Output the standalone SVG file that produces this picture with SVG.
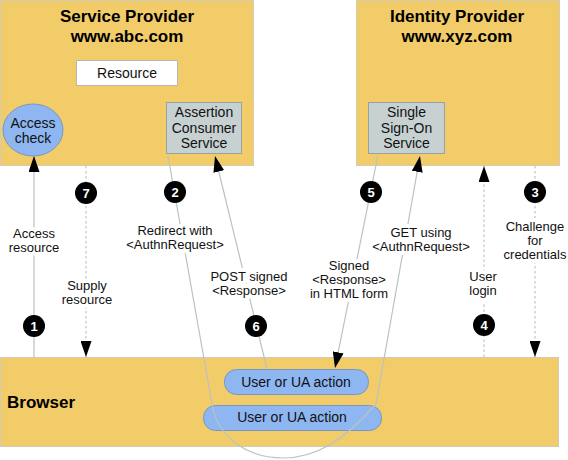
<svg xmlns="http://www.w3.org/2000/svg" width="568" height="460" viewBox="0 0 568 460">
<style>
.panel{fill:#F2CC68;stroke:#d2ccb4;stroke-width:1}
.title{font-family:"Liberation Sans",Arial,sans-serif;font-weight:bold;font-size:17px;fill:#000}
.nt{font-family:"Liberation Sans",Arial,sans-serif;font-size:14px;fill:#111;text-anchor:middle}
.lbl{font-family:"Liberation Sans",Arial,sans-serif;font-size:13px;fill:#111;text-anchor:middle;stroke:#fff;stroke-width:8px;stroke-linejoin:round;paint-order:stroke}
.ln{fill:none;stroke:#b9c3c3;stroke-width:1.2}
.dot{fill:none;stroke:#bcc6c6;stroke-width:1.2;stroke-dasharray:2.5 2.5}
.num circle{fill:#000}
.num text{font-family:"Liberation Sans",Arial,sans-serif;font-weight:bold;font-size:13px;fill:#fff;text-anchor:middle}
.grey{fill:#C7D1D1;stroke:#97a3a3;stroke-width:1}
.blue{fill:#8EB6F1;stroke:#7896c4;stroke-width:1}
</style>
<defs>
<marker id="ah" markerUnits="userSpaceOnUse" markerWidth="16" markerHeight="11" refX="16" refY="5.5" orient="auto">
<path d="M0,0 L16,5.5 L0,11 z" fill="#000"/>
</marker>
</defs>
<rect width="568" height="460" fill="#fff"/>

<g id="service-provider">
<rect class="panel" x="0.5" y="0.5" width="253" height="165"/>
<text class="title" x="127" y="22" text-anchor="middle">Service Provider</text>
<text class="title" x="127" y="42" text-anchor="middle">www.abc.com</text>
</g>
<g id="resource">
<rect x="76.5" y="60.5" width="101" height="25" fill="#fff" stroke="#b8b8b0"/>
<text class="nt" x="127" y="78">Resource</text>
</g>
<g id="access-check">
<ellipse class="blue" cx="33" cy="130" rx="30" ry="26"/>
<text class="nt" x="33" y="128">Access</text>
<text class="nt" x="33" y="143">check</text>
</g>
<g id="assertion-consumer-service">
<rect class="grey" x="166.5" y="102.5" width="75" height="51"/>
<text class="nt" x="204" y="117">Assertion</text>
<text class="nt" x="204" y="133">Consumer</text>
<text class="nt" x="204" y="148">Service</text>
</g>

<g id="identity-provider">
<rect class="panel" x="356.5" y="0.5" width="203" height="165"/>
<text class="title" x="457" y="22" text-anchor="middle">Identity Provider</text>
<text class="title" x="457" y="42" text-anchor="middle">www.xyz.com</text>
</g>
<g id="single-sign-on-service">
<rect class="grey" x="368.5" y="102.5" width="76" height="51"/>
<text class="nt" x="406.5" y="117">Single</text>
<text class="nt" x="406.5" y="133">Sign-On</text>
<text class="nt" x="406.5" y="148">Service</text>
</g>

<g id="browser">
<rect class="panel" x="0.5" y="357.5" width="558" height="89"/>
<text class="title" x="7" y="408">Browser</text>
</g>

<g id="ua-action-1">
<rect class="blue" x="224.5" y="369.5" width="144" height="25" rx="12"/>
<text class="nt" x="296" y="387">User or UA action</text>
</g>
<g id="ua-action-2">
<rect class="blue" x="203.5" y="405.5" width="178" height="25" rx="12"/>
<text class="nt" x="292" y="422">User or UA action</text>
</g>

<g id="connectors">
<line class="ln" x1="34" y1="357" x2="34" y2="156" marker-end="url(#ah)"/>
<line class="dot" x1="86" y1="166" x2="86" y2="357" marker-end="url(#ah)"/>
<path class="ln" d="M168,156 L212,404 C218,440 250,458 283,458 C316,458 345,440 376,404 L420,156" marker-end="url(#ah)"/>
<line class="ln" x1="267" y1="369" x2="215" y2="156" marker-end="url(#ah)"/>
<line class="ln" x1="378" y1="155" x2="335" y2="368" marker-end="url(#ah)"/>
<line class="dot" x1="484" y1="357" x2="484" y2="166" marker-end="url(#ah)"/>
<line class="dot" x1="535" y1="166" x2="535" y2="357" marker-end="url(#ah)"/>

<text class="lbl" x="34" y="238">Access</text>
<text class="lbl" x="34" y="252">resource</text>
<text class="lbl" x="87" y="290">Supply</text>
<text class="lbl" x="87" y="304">resource</text>
<text class="lbl" x="175" y="235">Redirect with</text>
<text class="lbl" x="175" y="249">&lt;AuthnRequest&gt;</text>
<text class="lbl" x="249" y="281">POST signed</text>
<text class="lbl" x="249" y="295">&lt;Response&gt;</text>
<text class="lbl" x="349" y="270">Signed</text>
<text class="lbl" x="349" y="284">&lt;Response&gt;</text>
<text class="lbl" x="349" y="298">in HTML form</text>
<text class="lbl" x="421" y="237">GET using</text>
<text class="lbl" x="421" y="251">&lt;AuthnRequest&gt;</text>
<text class="lbl" x="483" y="281">User</text>
<text class="lbl" x="483" y="295">login</text>
<text class="lbl" x="535" y="231">Challenge</text>
<text class="lbl" x="535" y="245">for</text>
<text class="lbl" x="535" y="259">credentials</text>

<g class="num"><circle cx="34" cy="326" r="11"/><text x="34" y="330.5">1</text></g>
<g class="num"><circle cx="175" cy="192" r="11"/><text x="175" y="196.5">2</text></g>
<g class="num"><circle cx="535" cy="192" r="11"/><text x="535" y="196.5">3</text></g>
<g class="num"><circle cx="484" cy="325" r="11"/><text x="484" y="329.5">4</text></g>
<g class="num"><circle cx="371" cy="192" r="11"/><text x="371" y="196.5">5</text></g>
<g class="num"><circle cx="256" cy="326" r="11"/><text x="256" y="330.5">6</text></g>
<g class="num"><circle cx="86" cy="193" r="11"/><text x="86" y="197.5">7</text></g>
</g>
</svg>
